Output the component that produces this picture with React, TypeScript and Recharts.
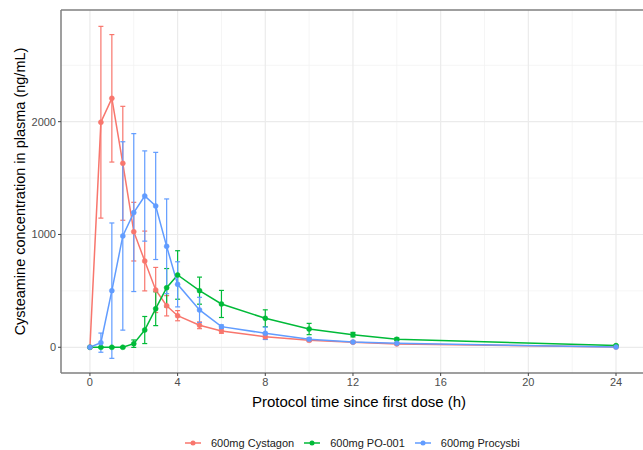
import React from "react";
import { ComposedChart, Line, ErrorBar, XAxis, YAxis, ReferenceLine, Legend } from "recharts";

const times = [0, 0.5, 1, 1.5, 2, 2.5, 3, 3.5, 4, 5, 6, 8, 10, 12, 14, 24];
const cystagonMean = [0, 1995, 2207, 1631, 1025, 765, 508, 368, 280, 195, 144, 94, 62, 45, 30, 3];
const cystagonSd = [0, 850, 565, 505, 260, 265, 200, 90, 45, 30, 20, 20, 12, 8, 6, 2];
const po001Mean = [0, 0, 0, 0, 32, 153, 342, 528, 641, 502, 384, 257, 162, 112, 71, 15];
const po001Sd = [0, 5, 5, 5, 33, 120, 150, 170, 215, 120, 120, 75, 50, 20, 12, 5];
const procysbiMean = [0, 41, 502, 987, 1194, 1341, 1253, 895, 558, 331, 183, 124, 71, 46, 35, 2];
const procysbiSd = [0, 85, 600, 835, 700, 400, 475, 420, 200, 112, 15, 55, 15, 8, 6, 2];

const xTicks = [0, 4, 8, 12, 16, 20, 24];
const xMinor = [2, 6, 10, 14, 18, 22];
const yTicks = [0, 1000, 2000];
const yMinor = [500, 1500, 2500];

const series = [
  { key: "cystagon", name: "600mg Cystagon", color: "#F8766D" },
  { key: "po001", name: "600mg PO-001", color: "#00BA38" },
  { key: "procysbi", name: "600mg Procysbi", color: "#619CFF" },
];

const data = times.map((t, i) => ({
  time: t,
  cystagon: cystagonMean[i],
  cystagonErr: cystagonSd[i],
  po001: po001Mean[i],
  po001Err: po001Sd[i],
  procysbi: procysbiMean[i],
  procysbiErr: procysbiSd[i],
}));

const X_DOMAIN: [number, number] = [-1.32, 25.87];
const Y_DOMAIN: [number, number] = [-228, 2990];
const FONT = "Liberation Sans, Arial, sans-serif";

const LegendContent = () => (
  <div
    style={{
      width: 643,
      display: "flex",
      justifyContent: "flex-start",
      alignItems: "center",
      fontFamily: FONT,
      fontSize: 11,
      color: "#1a1a1a",
      paddingTop: 27,
      paddingLeft: 184,
      boxSizing: "border-box",
    }}
  >
    {series.map((s) => (
      <div key={s.key} style={{ display: "flex", alignItems: "center", marginRight: 9 }}>
        <svg width={18} height={10} style={{ marginRight: 9 }}>
          <line x1={1} y1={5} x2={17} y2={5} stroke={s.color} strokeWidth={1.5} />
          <circle cx={9} cy={5} r={2.5} fill={s.color} />
        </svg>
        <span>{s.name}</span>
      </div>
    ))}
  </div>
);

export default function App() {
  return (
    <div style={{ position: "absolute", left: 0, top: 0, width: 643, height: 450, overflow: "hidden", background: "#fff" }}>
      <ComposedChart width={672} height={450} data={data} margin={{ top: 10, right: 15, bottom: 0, left: 0 }}>
        {xMinor.map((v) => (
          <ReferenceLine key={"xm" + v} x={v} stroke="#F2F2F2" strokeWidth={0.8} zIndex={-100} />
        ))}
        {yMinor.map((v) => (
          <ReferenceLine key={"ym" + v} y={v} stroke="#F2F2F2" strokeWidth={0.8} zIndex={-100} />
        ))}
        {xTicks.map((v) => (
          <ReferenceLine key={"xM" + v} x={v} stroke="#EBEBEB" strokeWidth={1.2} zIndex={-100} />
        ))}
        {yTicks.map((v) => (
          <ReferenceLine key={"yM" + v} y={v} stroke="#EBEBEB" strokeWidth={1.2} zIndex={-100} />
        ))}
        <ReferenceLine y={Y_DOMAIN[1]} stroke="#7F7F7F" strokeWidth={1.5} />
        <XAxis
          type="number"
          dataKey="time"
          domain={X_DOMAIN}
          ticks={xTicks}
          allowDataOverflow
          height={37}
          tickSize={3}
          tickMargin={2}
          stroke="#7F7F7F"
          tickLine={{ stroke: "#444" }}
          axisLine={{ stroke: "#7F7F7F", strokeWidth: 1.5 }}
          tick={{ fill: "#4D4D4D", fontSize: 11, fontFamily: FONT }}
          label={{
            value: "Protocol time since first dose (h)",
            position: "insideBottom",
            offset: 3,
            style: { fill: "#000", fontSize: 15, fontFamily: FONT },
          }}
        />
        <YAxis
          type="number"
          domain={Y_DOMAIN}
          ticks={yTicks}
          allowDataOverflow
          width={61}
          tickSize={3}
          tickMargin={2}
          stroke="#7F7F7F"
          tickLine={{ stroke: "#444" }}
          axisLine={{ stroke: "#7F7F7F", strokeWidth: 1.5 }}
          tick={{ fill: "#4D4D4D", fontSize: 11, fontFamily: FONT }}
          label={{
            value: "Cysteamine concentration in plasma (ng/mL)",
            angle: -90,
            position: "center",
            dx: -11,
            style: { fill: "#000", fontSize: 14.5, fontFamily: FONT, textAnchor: "middle" },
          }}
        />
        <Legend verticalAlign="bottom" height={40} content={() => <LegendContent />} />
        {series.map((s) => (
          <Line
            key={s.key}
            dataKey={s.key}
            name={s.name}
            type="linear"
            stroke={s.color}
            strokeWidth={1.5}
            dot={{ r: 2.5, fill: s.color, stroke: s.color, strokeWidth: 0.5 }}
            activeDot={false}
            isAnimationActive={false}
          >
            <ErrorBar dataKey={s.key + "Err"} width={2.5} strokeWidth={1.2} stroke={s.color} direction="y" />
          </Line>
        ))}
      </ComposedChart>
    </div>
  );
}
